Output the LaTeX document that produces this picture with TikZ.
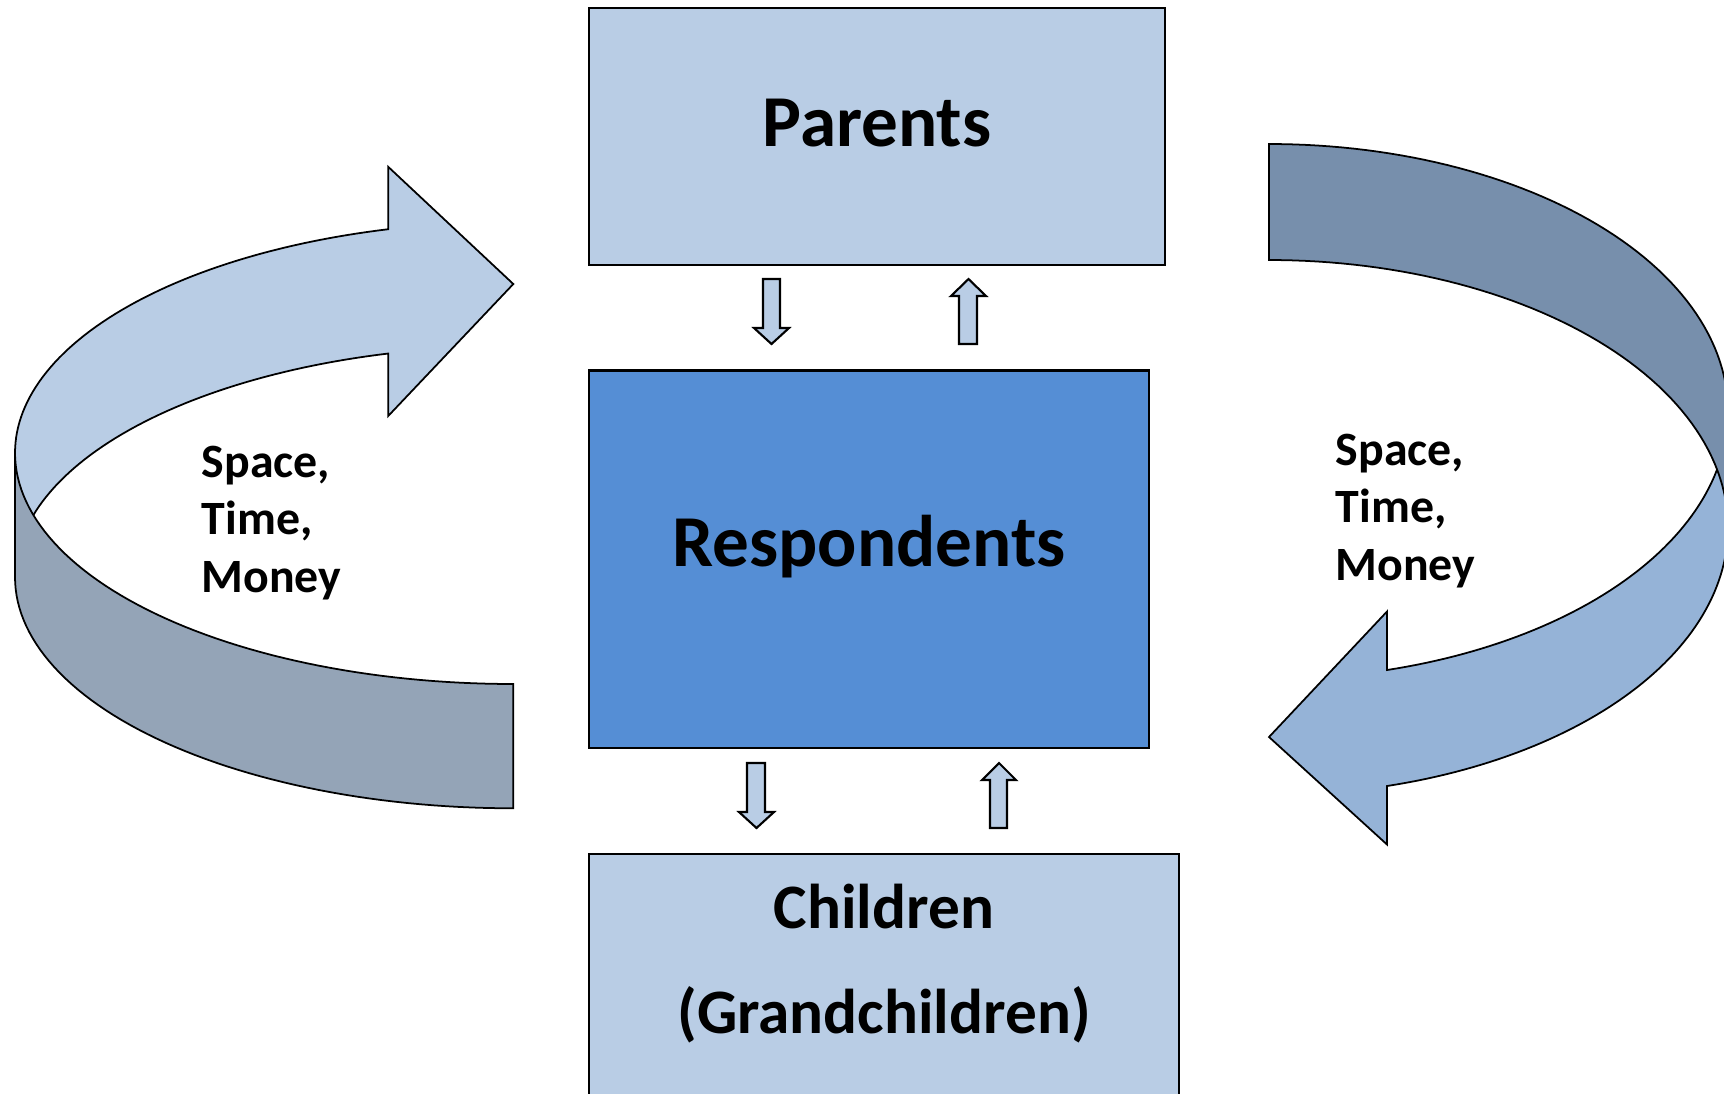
\documentclass[tikz,border=0pt]{standalone}
\usepackage{fontspec}
\setmainfont{Carlito}
\usepackage{xcolor}
\definecolor{paleblue}{HTML}{B9CDE5}
\definecolor{midblue}{HTML}{558ED5}
\definecolor{greyblue}{HTML}{94A4B7}
\definecolor{skyblue}{HTML}{95B3D7}
\definecolor{steelblue}{HTML}{778FAC}
\tikzset{
    box/.style={draw, line width=0.6pt, inner sep=0pt},
    boxtext/.style={font=\fontsize{20.8}{25}\selectfont\bfseries, inner sep=0pt, anchor=base},
    band/.style={draw, line width=0.5pt, line join=miter},
    tag/.style={font=\fontsize{13.6}{16.4}\selectfont\bfseries, align=left, inner sep=0pt, anchor=base west},
    blockarrow/.style={draw, fill=paleblue, line width=0.6pt, line join=miter}
}

\begin{document}
\begin{tikzpicture}[x=0.01cm, y=-0.01cm]
            \path[use as bounding box] (0,0) rectangle (1724,1093);
            \clip (0,0) rectangle (1724,1093);

            % left ribbon, back part with the head
            \draw[band, fill=paleblue] (388.3,229.2)
                -- plot[domain=255.47:180, samples=60] ({513.3+498.3*cos(\x)}, {452.9+231.1*sin(\x)})
                -- (15,577.2)
                -- plot[domain=180:255.47, samples=60] ({513.3+498.3*cos(\x)}, {577.2+231.1*sin(\x)})
                -- (388.3,415.9) -- (513.3,284) -- (388.3,166.9) -- cycle;
            % left ribbon, front part with the tail
            \draw[band, fill=greyblue] (15,452.9)
                -- plot[domain=180:90, samples=60] ({513.3+498.3*cos(\x)}, {452.9+231.1*sin(\x)})
                -- (513.3,808.3)
                -- plot[domain=90:180, samples=60] ({513.3+498.3*cos(\x)}, {577.2+231.1*sin(\x)})
                -- cycle;

            % right ribbon, front part with the head
            \draw[band, fill=skyblue] (1728,411.5)
                -- plot[domain=0:75.1, samples=60] ({1269+459*cos(\x)}, {411.5+267.5*sin(\x)})
                -- (1387,611.5) -- (1269,737) -- (1387,844.5)
                -- plot[domain=75.1:0, samples=60] ({1269+459*cos(\x)}, {527.5+267.5*sin(\x)})
                -- cycle;
            % right ribbon, back part with the tail
            \draw[band, fill=steelblue] (1269,144)
                -- plot[domain=270:360, samples=60] ({1269+459*cos(\x)}, {411.5+267.5*sin(\x)})
                -- (1728,527.5)
                -- plot[domain=360:270, samples=60] ({1269+459*cos(\x)}, {527.5+267.5*sin(\x)})
                -- cycle;

            \node[box, fill=paleblue, minimum width=5.76cm, minimum height=2.57cm] (parents) at (877,136.5) {};
            \node[box, fill=midblue, minimum width=5.60cm, minimum height=3.77cm] (respondents) at (869,559.1) {};
            \node[box, fill=paleblue, minimum width=5.90cm, minimum height=2.70cm] (children) at (884,989) {};

            \node[boxtext] (parentsText) at (877,146) {Parents};
            \node[boxtext] (respondentsText) at (869,566) {Respondents};
            \node[boxtext, font=\fontsize{18}{30}\selectfont\bfseries, align=center] (childrenText) at (884,1033.5) {Children\\(Grandchildren)};

            \node[tag] (leftTag) at (201,592.6) {Space,\\Time,\\Money};
            \node[tag] (rightTag) at (1335,580.5) {Space,\\Time,\\Money};

            % small arrows between the boxes
            \draw[blockarrow] (763,279) -- (780,279) -- (780,328) -- (789,328) -- (771.5,344) -- (754,328) -- (763,328) -- cycle;
            \draw[blockarrow] (959,344) -- (959,296) -- (951,296) -- (968.5,279) -- (986,296) -- (977,296) -- (977,344) -- cycle;

            \draw[blockarrow] (747,763) -- (765,763) -- (765,812) -- (774,812) -- (756.5,828) -- (739,812) -- (747,812) -- cycle;
            \draw[blockarrow] (990,828) -- (990,780) -- (982,780) -- (999,763) -- (1016,780) -- (1007,780) -- (1007,828) -- cycle;
\end{tikzpicture}
\end{document}
